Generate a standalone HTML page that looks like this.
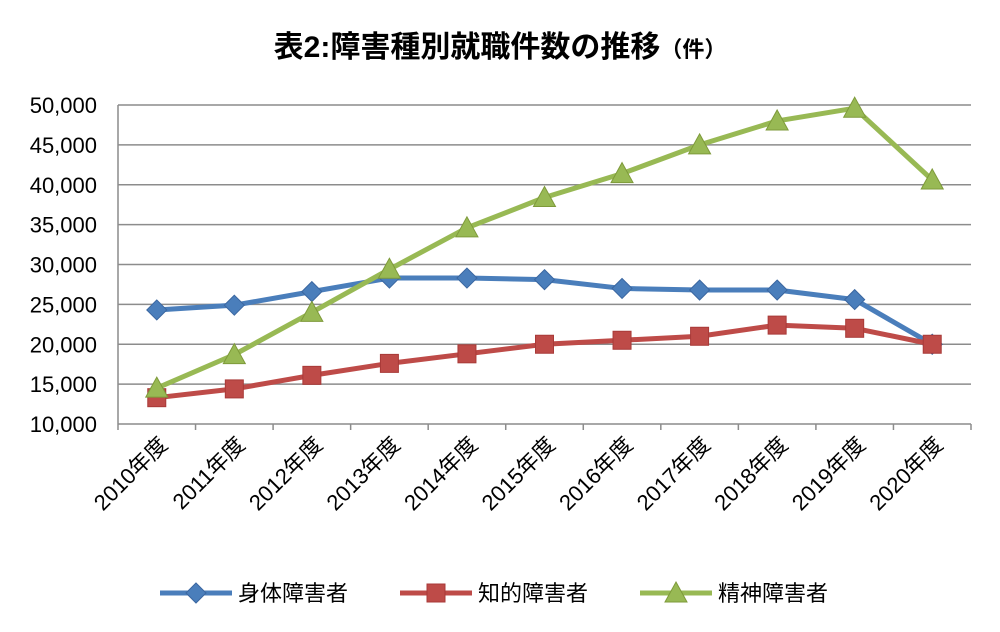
<!DOCTYPE html>
<html><head><meta charset="utf-8">
<style>
html,body{margin:0;padding:0;background:#fff;}
svg{display:block;font-family:"Liberation Sans","Noto Sans CJK JP",sans-serif;}
</style></head>
<body>
<svg id="c" width="1000" height="632" viewBox="0 0 1000 632" xmlns="http://www.w3.org/2000/svg">
<text x="500" y="57" text-anchor="middle" font-size="30" font-weight="bold" fill="#000">表2:障害種別就職件数の推移<tspan font-size="22">（件）</tspan></text>
</svg>
<script>
var s=document.getElementById('c'),ns='http://www.w3.org/2000/svg';
function el(t,a,txt){var e=document.createElementNS(ns,t);for(var k in a)e.setAttribute(k,a[k]);if(txt!=null)e.textContent=txt;s.appendChild(e);return e;}
var L=118,R=971,T=105,B=424;
function Y(v){return B-(v-10000)*(B-T)/40000;}
var step=(R-L)/11;
function X(i){return L+step*(i+0.5);}
for(var v=10000;v<=50000;v+=5000){var y=Y(v);
 el('line',{x1:L,x2:R,y1:y,y2:y,stroke:'#8c8c8c','stroke-width':1.5});
 el('text',{x:97,y:y+8,'text-anchor':'end','font-size':22,fill:'#000'},v.toLocaleString('en-US'));}
el('line',{x1:L,x2:L,y1:T,y2:B,stroke:'#8c8c8c','stroke-width':1.5});
for(var i=0;i<=11;i++){var x=L+step*i;el('line',{x1:x,x2:x,y1:B,y2:B+6,stroke:'#8c8c8c','stroke-width':1.5});}
for(var i=0;i<11;i++){var x=X(i)+12,y=B+22;
 el('text',{x:x,y:y,'text-anchor':'end','font-size':22,fill:'#000',transform:'rotate(-45 '+x+' '+y+')'},(2010+i)+'年度');}
var blue=[24300,24900,26600,28300,28300,28100,27000,26800,26800,25600,20000];
var red=[13300,14400,16100,17600,18800,20000,20500,21000,22400,22000,20000];
var green=[14500,18700,24000,29400,34600,38400,41400,45000,48000,49600,40600];
function series(d,col,mk){var p=d.map(function(v,i){return X(i)+','+Y(v);}).join(' ');
 el('polyline',{points:p,fill:'none',stroke:col,'stroke-width':5,'stroke-linejoin':'round'});
 d.forEach(function(v,i){mk(X(i),Y(v),col);});}
function dia(x,y,c){el('polygon',{points:(x)+','+(y-10)+' '+(x+10)+','+y+' '+x+','+(y+10)+' '+(x-10)+','+y,fill:c,stroke:'#3a66a0','stroke-width':1});}
function sq(x,y,c){el('rect',{x:x-9,y:y-9,width:18,height:18,fill:c,stroke:'#a83a38','stroke-width':1});}
function tri(x,y,c){el('polygon',{points:x+','+(y-11)+' '+(x+11)+','+(y+9)+' '+(x-11)+','+(y+9),fill:c,stroke:'#7e9a3a','stroke-width':1});}
series(blue,'#4a7ebb',dia);
series(red,'#be4b48',sq);
series(green,'#98b954',tri);
var ly=593;
[[160,'#4a7ebb',dia,'身体障害者'],[400,'#be4b48',sq,'知的障害者'],[640,'#98b954',tri,'精神障害者']].forEach(function(l){
 el('line',{x1:l[0],x2:l[0]+72,y1:ly,y2:ly,stroke:l[1],'stroke-width':5});
 l[2](l[0]+36,ly,l[1]);
 el('text',{x:l[0]+78,y:ly+8,'font-size':22,fill:'#000'},l[3]);});
</script>
</body></html>
